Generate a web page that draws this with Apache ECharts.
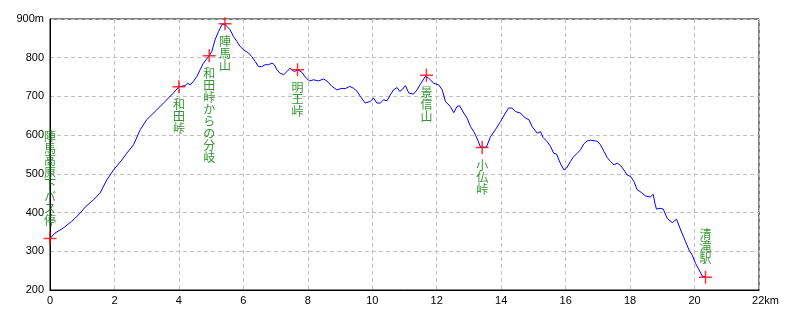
<!DOCTYPE html>
<html>
<head>
<meta charset="utf-8">
<script src="https://cdn.jsdelivr.net/npm/echarts@6/dist/echarts.min.js"></script>
<style>
html,body{margin:0;padding:0;background:#fff;}
#chart{width:800px;height:320px;}
</style>
</head>
<body>
<div id="chart"></div>
<script>
// Profile distances (km) and elevations (m)
var distKm = [0.00,0.155,0.41,0.67,0.93,1.09,1.35,1.55,1.76,1.97,2.23,2.38,2.59,2.80,3.00,3.31,3.57,3.83,4.00,4.19,4.27,4.35,4.45,4.56,4.66,4.76,4.92,5.02,5.12,5.23,5.33,5.40,5.49,5.59,5.69,5.80,5.90,6.00,6.16,6.26,6.37,6.47,6.57,6.68,6.78,6.89,6.96,7.04,7.14,7.25,7.35,7.45,7.58,7.69,7.82,7.92,8.05,8.18,8.33,8.49,8.59,8.75,8.90,9.06,9.16,9.30,9.42,9.53,9.63,9.78,9.94,10.04,10.14,10.25,10.35,10.46,10.56,10.66,10.77,10.85,10.92,11.03,11.13,11.28,11.39,11.51,11.65,11.68,11.75,11.91,12.06,12.17,12.27,12.42,12.53,12.63,12.71,12.84,12.94,13.05,13.15,13.25,13.36,13.41,13.54,13.67,13.82,13.98,14.13,14.23,14.34,14.44,14.60,14.75,14.86,14.96,15.12,15.22,15.30,15.43,15.53,15.63,15.72,15.79,15.86,15.95,16.03,16.15,16.25,16.36,16.46,16.56,16.67,16.77,16.93,17.00,17.08,17.19,17.29,17.39,17.50,17.60,17.71,17.81,17.91,18.02,18.12,18.22,18.35,18.48,18.62,18.72,18.78,18.82,18.93,19.03,19.15,19.31,19.44,19.57,19.72,19.83,19.93,20.03,20.14,20.24,20.34];
var elevM = [333,347,360,377,398,414,433,450,484,510,536,553,575,614,640,665,687,709,725,728,734,730,739,752,769,786,803,816,846,868,885,887,881,872,855,842,829,821,812,803,790,777,777,782,782,786,782,769,760,756,764,773,764,769,762,750,740,743,740,745,740,726,717,721,720,726,721,713,700,683,687,696,683,683,691,689,704,717,723,713,717,728,709,706,717,734,752,755,747,734,730,717,687,674,658,674,676,657,644,622,609,592,569,564,569,596,614,635,657,670,670,661,657,644,640,622,605,609,594,583,571,553,551,536,523,510,515,532,545,553,562,577,585,587,585,583,575,558,542,532,523,528,521,510,497,493,480,459,452,443,440,447,420,409,411,409,385,374,383,355,325,303,290,269,252,236,234];

// Waypoints
var wpNames = ['陣馬高原下バス停','和田峠','和田峠からの分岐','陣馬山','明王峠','景信山','小仏峠','清滝駅'];
var wpKm = [0, 4.0, 4.94, 5.43, 7.68, 11.68, 13.41, 20.34];
var wpElev = [333, 725, 805, 888, 769, 755, 568, 233];

// Tick labels
var xTicks = [0,2,4,6,8,10,12,14,16,18,20,22];
var yTicks = [200,300,400,500,600,700,800,900];

var profile = distKm.map(function(d,i){ return [d, elevM[i]]; });
var lastIdx = wpNames.length - 1;
var wpData = wpNames.map(function(n,i){
  var above = (i === 0 || i === lastIdx);
  return {
    name: n,
    value: [wpKm[i], wpElev[i]],
    label: { position: above ? 'top' : 'bottom', distance: above ? 6 : 5 }
  };
});

var chart = echarts.init(document.getElementById('chart'), null, {renderer:'canvas'});
var axisFont = "'Liberation Sans Narrow','Liberation Sans','DejaVu Sans',sans-serif";
chart.setOption({
  animation: false,
  backgroundColor: '#ffffff',
  grid: { left: 50, right: 41, top: 19, bottom: 30, show: true, borderColor: '#000', borderWidth: 1, backgroundColor: 'transparent' },
  xAxis: {
    type: 'value', min: xTicks[0], max: xTicks[xTicks.length-1], interval: 2,
    axisLine: { show: true, lineStyle: { color: '#000', width: 1 } },
    axisTick: { show: false },
    splitLine: { show: true, lineStyle: { color: '#c0c0c0', type: [4,3], width: 1 } },
    axisLabel: {
      color: '#000', fontSize: 11, fontFamily: axisFont, margin: 5,
      formatter: function(v){ return v === xTicks[xTicks.length-1] ? '{s|}' + v + 'km' : String(v); },
      rich: { s: { width: 13 } }
    }
  },
  yAxis: {
    type: 'value', min: yTicks[0], max: yTicks[yTicks.length-1], interval: 100,
    axisLine: { show: true, lineStyle: { color: '#000', width: 1 } },
    axisTick: { show: false },
    splitLine: { show: true, lineStyle: { color: '#c0c0c0', type: [4,3], width: 1 } },
    axisLabel: {
      color: '#000', fontSize: 11, fontFamily: axisFont, margin: 6,
      formatter: function(v){ return v === yTicks[yTicks.length-1] ? v + 'm' : String(v); }
    }
  },
  series: [
    {
      type: 'line', data: profile, showSymbol: false, symbol: 'none',
      lineStyle: { color: '#0000ff', width: 1 }, z: 2
    },
    {
      type: 'scatter', data: wpData,
      symbol: 'path://M0,5.3h12v1.4h-12zM5.3,0h1.4v12h-1.4z', symbolSize: 13,
      itemStyle: { color: '#ff0000' }, z: 3,
      label: {
        show: true, color: '#007a00', fontSize: 12, lineHeight: 12,
        fontFamily: "'Noto Sans CJK JP',sans-serif",
        formatter: function(p){ return p.name.split('').join('\n'); }
      }
    }
  ]
});
</script>
</body>
</html>
